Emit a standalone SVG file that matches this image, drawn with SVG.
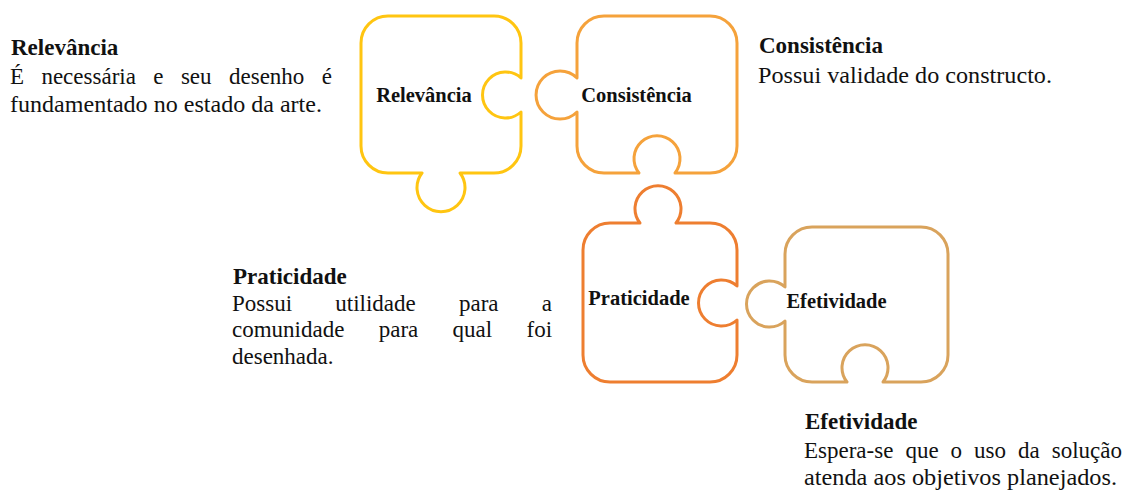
<svg xmlns="http://www.w3.org/2000/svg" width="1127" height="493" viewBox="0 0 1127 493">
<style>
.pc{fill:#fff;stroke-width:3;stroke-linejoin:round}
.lbl{font-family:"Liberation Serif","Times New Roman",serif;font-weight:bold;font-size:20.5px;fill:#111;text-anchor:middle}
.ttl{font-family:"Liberation Serif","Times New Roman",serif;font-weight:bold;font-size:23px;fill:#111}
.txt{font-family:"Liberation Serif","Times New Roman",serif;font-size:23px;fill:#111}
</style>
<rect width="1127" height="493" fill="#fff"/>
<g id="connectors"></g>
<g id="node-relevancia">
<path class="pc" stroke="#FFC511" d="M 388 16 H 494 A 27 27 0 0 1 521 43 V 78 A 23 23 0 1 0 521 112 V 146 A 27 27 0 0 1 494 173 H 460 A 24 24 0 1 1 422 173 H 388 A 27 27 0 0 1 361 146 V 43 A 27 27 0 0 1 388 16 Z"/>
<text class="lbl" x="424" y="102">Relevância</text>
</g>
<g id="node-consistencia">
<path class="pc" stroke="#F5A23B" d="M 604 16 H 710 A 27 27 0 0 1 737 43 V 146 A 27 27 0 0 1 710 173 H 675 A 23 23 0 1 0 639 173 H 604 A 27 27 0 0 1 577 146 V 112 A 24 24 0 1 1 577 78 V 43 A 27 27 0 0 1 604 16 Z"/>
<text class="lbl" x="636.5" y="102">Consistência</text>
</g>
<g id="node-praticidade">
<path class="pc" stroke="#EE7E30" d="M 610 223 H 640 A 23 23 0 1 1 676 223 H 710 A 27 27 0 0 1 737 250 V 286 A 23 23 0 1 0 737 320 V 355 A 27 27 0 0 1 710 382 H 610 A 27 27 0 0 1 583 355 V 250 A 27 27 0 0 1 610 223 Z"/>
<text class="lbl" x="639" y="305">Praticidade</text>
</g>
<g id="node-efetividade">
<path class="pc" stroke="#D9A35C" d="M 812 227 H 921 A 27 27 0 0 1 948 254 V 355 A 27 27 0 0 1 921 382 H 883 A 23 23 0 1 0 847 382 H 812 A 27 27 0 0 1 785 355 V 321 A 23 23 0 1 1 785 287 V 254 A 27 27 0 0 1 812 227 Z"/>
<text class="lbl" x="836.5" y="308">Efetividade</text>
</g>
<g id="desc-relevancia">
<text class="ttl" x="11" y="55">Relevância</text>
<text class="txt" y="84"><tspan x="10">É</tspan><tspan x="41.4">necessária</tspan><tspan x="153.3">e</tspan><tspan x="180.9">seu</tspan><tspan x="229">desenho</tspan><tspan x="321.8">é</tspan></text>
<text class="txt" x="10" y="112" textLength="312" lengthAdjust="spacingAndGlyphs">fundamentado no estado da arte.</text>
</g>
<g id="desc-consistencia">
<text class="ttl" x="759" y="53">Consistência</text>
<text class="txt" x="758" y="83" textLength="294" lengthAdjust="spacingAndGlyphs">Possui validade do constructo.</text>
</g>
<g id="desc-praticidade">
<text class="ttl" x="233" y="284">Praticidade</text>
<text class="txt" y="311"><tspan x="232">Possui</tspan><tspan x="335.3">utilidade</tspan><tspan x="459">para</tspan><tspan x="541.8">a</tspan></text>
<text class="txt" y="337"><tspan x="232">comunidade</tspan><tspan x="378.7">para</tspan><tspan x="452.6">qual</tspan><tspan x="526.5">foi</tspan></text>
<text class="txt" x="232" y="364">desenhada.</text>
</g>
<g id="desc-efetividade">
<text class="ttl" x="805" y="429">Efetividade</text>
<text class="txt" y="458"><tspan x="804">Espera-se</tspan><tspan x="905.4">que</tspan><tspan x="950.6">o</tspan><tspan x="974.1">uso</tspan><tspan x="1018">da</tspan><tspan x="1051.7">solução</tspan></text>
<text class="txt" x="804" y="485" textLength="313" lengthAdjust="spacingAndGlyphs">atenda aos objetivos planejados.</text>
</g>
</svg>
